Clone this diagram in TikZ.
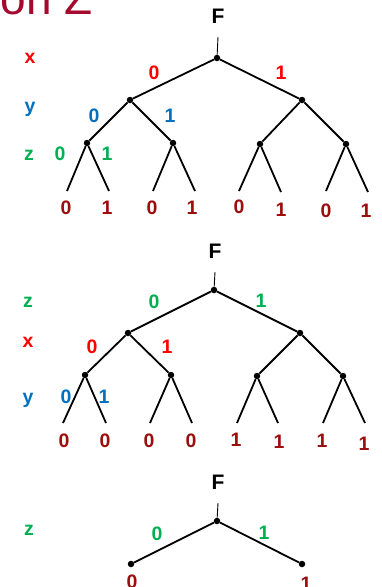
\documentclass[tikz,border=0pt]{standalone}
\usepackage{fontspec}
\setmainfont{Liberation Sans}
\definecolor{cx}{HTML}{FF0000}
\definecolor{cy}{HTML}{0070C0}
\definecolor{cz}{HTML}{00B050}
\definecolor{leafc}{HTML}{9C0E0E}
\definecolor{titlec}{HTML}{A50A2E}
\begin{document}
\begin{tikzpicture}[x=1pt,y=-1pt,
  dot/.style={circle,fill=black,inner sep=0pt,minimum size=6.5pt},
  edge/.style={line width=1.8pt},
  stub/.style={line width=0.9pt},
  lbl/.style={font=\bfseries\fontsize{19.5}{22}\selectfont,inner sep=0pt,anchor=base},
  xl/.style={lbl,text=cx},
  yl/.style={lbl,text=cy},
  zl/.style={lbl,text=cz},
  leaf/.style={lbl,text=leafc},
  fl/.style={lbl,text=black,font=\bfseries\fontsize{21}{24}\selectfont}]
\useasboundingbox (0,0) rectangle (381,587);
\clip (0,0) rectangle (381,587);

% heading, partly above the frame
\node[font=\fontsize{46}{50}\selectfont,text=titlec,inner sep=0pt,anchor=base east] (title) at (93,14) {on Z};

% ---------- order x, y, z ----------
\node[fl] (f1) at (218,23) {F};
\coordinate (s1) at (218,37);
\node[dot] (a) at (217,58) {};
\node[dot] (a0) at (130,100) {};
\node[dot] (a1) at (302,100) {};
\node[dot] (a00) at (87,143) {};
\node[dot] (a01) at (173,143) {};
\node[dot] (a10) at (260,144) {};
\node[dot] (a11) at (346,144) {};
\coordinate (a000) at (67,191);
\coordinate (a001) at (109,191);
\coordinate (a010) at (153,191);
\coordinate (a011) at (195,191);
\coordinate (a100) at (239,191);
\coordinate (a101) at (281,192);
\coordinate (a110) at (326,191);
\coordinate (a111) at (368,192);
\draw[stub] (s1) -- (a);
\draw[edge] (a0) -- (a) -- (a1);
\draw[edge] (a00) -- (a0) -- (a01);
\draw[edge] (a10) -- (a1) -- (a11);
\draw[edge] (a000) -- (a00) -- (a001);
\draw[edge] (a010) -- (a01) -- (a011);
\draw[edge] (a100) -- (a10) -- (a101);
\draw[edge] (a110) -- (a11) -- (a111);
\node[xl] (vx1) at (30,63) {x};
\node[yl] (vy1) at (30,112) {y};
\node[zl] (vz1) at (29,160) {z};
\node[xl] (ea0) at (154,79) {0};
\node[xl] (ea1) at (281,79) {1};
\node[yl] (eb0) at (94,122) {0};
\node[yl] (eb1) at (170,122) {1};
\node[zl] (ec0) at (60,160) {0};
\node[zl] (ec1) at (107,160) {1};
\node[leaf] (la1) at (66,214) {0};
\node[leaf] (la2) at (107,214) {1};
\node[leaf] (la3) at (152,214) {0};
\node[leaf] (la4) at (192,214) {1};
\node[leaf] (la5) at (239,213) {0};
\node[leaf] (la6) at (281,216) {1};
\node[leaf] (la7) at (326,217) {0};
\node[leaf] (la8) at (366,217) {1};

% ---------- order z, x, y ----------
\node[fl] (f2) at (215,258) {F};
\coordinate (s2) at (215,272);
\node[dot] (b) at (214,290) {};
\node[dot] (b0) at (128,333) {};
\node[dot] (b1) at (300,333) {};
\node[dot] (b00) at (85,375) {};
\node[dot] (b01) at (171,375) {};
\node[dot] (b10) at (257,376) {};
\node[dot] (b11) at (343,376) {};
\coordinate (b000) at (63,423);
\coordinate (b001) at (106,423);
\coordinate (b010) at (150,423);
\coordinate (b011) at (192,423);
\coordinate (b100) at (237,423);
\coordinate (b101) at (278,423);
\coordinate (b110) at (323,423);
\coordinate (b111) at (365,423);
\draw[stub] (s2) -- (b);
\draw[edge] (b0) -- (b) -- (b1);
\draw[edge] (b00) -- (b0) -- (b01);
\draw[edge] (b10) -- (b1) -- (b11);
\draw[edge] (b000) -- (b00) -- (b001);
\draw[edge] (b010) -- (b01) -- (b011);
\draw[edge] (b100) -- (b10) -- (b101);
\draw[edge] (b110) -- (b11) -- (b111);
\node[zl] (vz2) at (28,307) {z};
\node[xl] (vx2) at (28,347) {x};
\node[yl] (vy2) at (28,403) {y};
\node[zl] (eg0) at (154,308) {0};
\node[zl] (eg1) at (261,307) {1};
\node[xl] (eh0) at (92,353) {0};
\node[xl] (eh1) at (167,353) {1};
\node[yl] (ei0) at (66,403) {0};
\node[yl] (ei1) at (104,403) {1};
\node[leaf] (lb1) at (64,447) {0};
\node[leaf] (lb2) at (105,447) {0};
\node[leaf] (lb3) at (149,447) {0};
\node[leaf] (lb4) at (191,447) {0};
\node[leaf] (lb5) at (236,446) {1};
\node[leaf] (lb6) at (279,448) {1};
\node[leaf] (lb7) at (322,447) {1};
\node[leaf] (lb8) at (364,450) {1};

% ---------- reduced: z only ----------
\node[fl] (f3) at (218,489) {F};
\coordinate (s3) at (218,503);
\node[dot] (c) at (217,521) {};
\node[dot] (c0) at (131,564) {};
\node[dot] (c1) at (302,564) {};
\draw[stub] (s3) -- (c);
\draw[edge] (c0) -- (c) -- (c1);
\node[zl] (vz3) at (29,535) {z};
\node[zl] (ek0) at (157,540) {0};
\node[zl] (ek1) at (264,539) {1};
\node[leaf] (lc1) at (132,588) {0};
\node[leaf] (lc2) at (306,590) {1};
\end{tikzpicture}
\end{document}
